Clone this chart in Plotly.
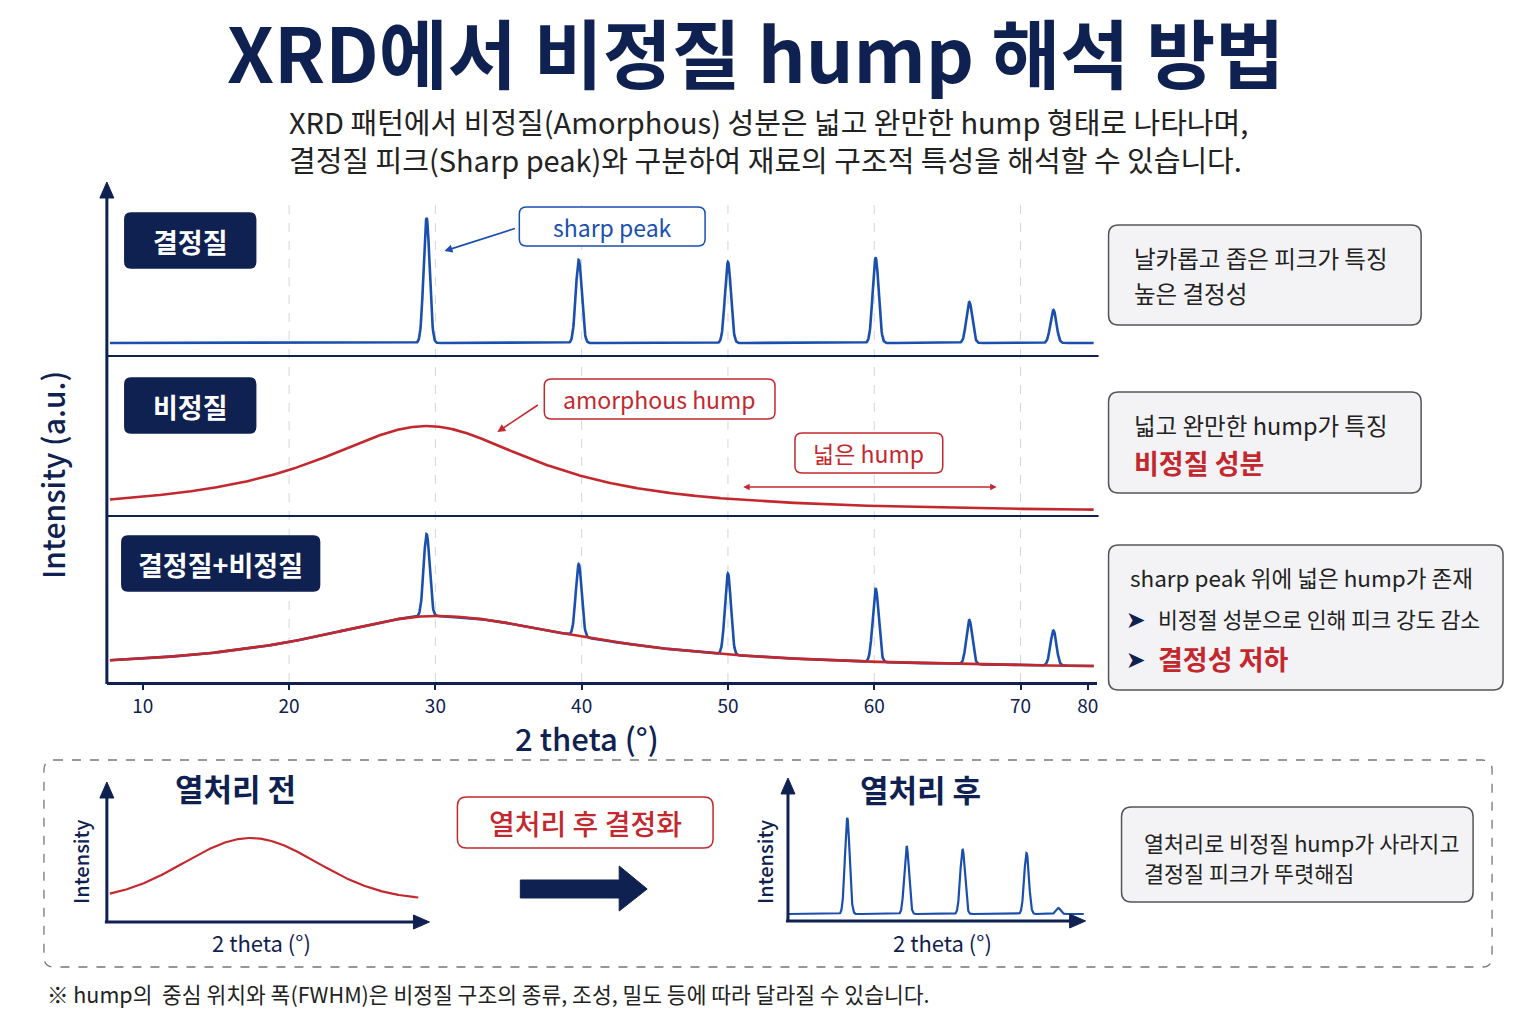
import numpy as np
import plotly.graph_objects as go

W, H = 1536, 1024
FONT = "Noto Sans CJK KR"
NAVY = "#0f2150"
BLUE = "#1a4fae"
RED = "#c3282e"
GREY_TXT = "#222222"
BOX_FILL = "#f3f3f5"
BOX_LINE = "#555555"

#%% data
# crystalline peaks (2theta, height above background)
PEAK_POS = [29.4, 39.8, 50.0, 60.1, 66.5, 72.25]
CRYST_INT = [125, 83, 81, 85, 41, 33]
MIX_INT = [82, 72, 81, 73, 44, 35]
PEAK_FWHM = 0.48
CRYST_BG = 13

# amorphous hump, amorphous-only panel
AMO_CENTER = 29.4
AMO_HEIGHT = 87
AMO_HWHM_L = 9.3
AMO_HWHM_R = 9.1
AMO_BG = 3

# amorphous hump, mixed panel
MIX_CENTER = 30.0
MIX_HEIGHT = 54
MIX_HWHM_L = 10.4
MIX_HWHM_R = 12.7
MIX_BG = 12

# small sketches: before / after annealing
PRE_CENTER = 41.4
PRE_HEIGHT = 62
PRE_HWHM = 17
PRE_BG = 22
POST_POS = [24.0, 38.0, 51.2, 66.3, 73.8]
POST_INT = [96, 68, 65, 61, 6]
POST_FWHM = 1.3
POST_BG = 7

XTICK_VALS = [10, 20, 30, 40, 50, 60, 70, 74.6]
XTICK_TEXT = ["10", "20", "30", "40", "50", "60", "70", "80"]
GRID_VALS = [20, 30, 40, 50, 60, 70]


#%% profiles
def peaks(x, pos, inten, fwhm):
    y = np.zeros_like(x)
    for p, h in zip(pos, inten):
        y += h * np.exp(-4 * np.log(2) * (x - p) ** 2 / fwhm ** 2)
    return y


def lor_hump(x, c, h, wl, wr):
    w = np.where(x < c, wl, wr)
    return h / (1 + ((x - c) / w) ** 2)


def gauss_hump(x, c, h, hwhm):
    return h * np.exp(-np.log(2) * ((x - c) / hwhm) ** 2)


tt = np.linspace(7.75, 75.0, 2400)
cryst = CRYST_BG + peaks(tt, PEAK_POS, CRYST_INT, PEAK_FWHM)
amo = AMO_BG + lor_hump(tt, AMO_CENTER, AMO_HEIGHT, AMO_HWHM_L, AMO_HWHM_R)
mix_hump = MIX_BG + lor_hump(tt, MIX_CENTER, MIX_HEIGHT, MIX_HWHM_L, MIX_HWHM_R)
mix = mix_hump + peaks(tt, PEAK_POS, MIX_INT, PEAK_FWHM)

tt_pre = np.linspace(10.65, 78.0, 400)
pre = PRE_BG + gauss_hump(tt_pre, PRE_CENTER, PRE_HEIGHT, PRE_HWHM)
tt_post = np.linspace(10.2, 79.8, 1500)
post = POST_BG + peaks(tt_post, POST_POS, POST_INT, POST_FWHM)


#%% helpers (pixel -> paper)
def px(x):
    return x / W


def py(y):
    return 1 - y / H


fig = go.Figure()


def P(a, b):
    return f"{px(a):.5f},{py(b):.5f}"


def rbox(x0, y0, x1, y1, r=8, fill="white", line=BOX_LINE, lw=1.5, dash="solid"):
    path = (f"M {P(x0 + r, y0)} L {P(x1 - r, y0)} Q {P(x1, y0)} {P(x1, y0 + r)} "
            f"L {P(x1, y1 - r)} Q {P(x1, y1)} {P(x1 - r, y1)} "
            f"L {P(x0 + r, y1)} Q {P(x0, y1)} {P(x0, y1 - r)} "
            f"L {P(x0, y0 + r)} Q {P(x0, y0)} {P(x0 + r, y0)} Z")
    fig.add_shape(type="path", path=path, xref="paper", yref="paper",
                  fillcolor=fill, line=dict(color=line, width=lw, dash=dash))


def poly(pts, color):
    path = "M " + " L ".join(P(a, b) for a, b in pts) + " Z"
    fig.add_shape(type="path", path=path, xref="paper", yref="paper",
                  fillcolor=color, line=dict(color=color, width=1))


def seg(x0, y0, x1, y1, color=NAVY, w=3):
    fig.add_shape(type="line", xref="paper", yref="paper",
                  x0=px(x0), y0=py(y0), x1=px(x1), y1=py(y1),
                  line=dict(color=color, width=w))


def txt(x, y, s, size, color=GREY_TXT, weight=400, anchor="left", angle=0):
    fig.add_annotation(x=px(x), y=py(y), xref="paper", yref="paper", text=s,
                       showarrow=False, xanchor=anchor, yanchor="middle",
                       textangle=angle,
                       font=dict(family=FONT, size=size, color=color, weight=weight))


def arrow(xt, yt, xh, yh, color, w=1.6, both=False):
    fig.add_annotation(x=px(xh), y=py(yh), xref="paper", yref="paper",
                       ax=xt - xh, ay=yt - yh, text="", showarrow=True,
                       arrowhead=2, startarrowhead=2, arrowsize=1, arrowwidth=w,
                       arrowcolor=color, arrowside="end+start" if both else "end")


#%% traces
fig.add_trace(go.Scatter(x=tt, y=cryst, xaxis="x", yaxis="y3", mode="lines",
                         line=dict(color=BLUE, width=2.6)))
fig.add_trace(go.Scatter(x=tt, y=amo, xaxis="x", yaxis="y2", mode="lines",
                         line=dict(color=RED, width=2.6)))
fig.add_trace(go.Scatter(x=tt, y=mix, xaxis="x", yaxis="y", mode="lines",
                         line=dict(color=BLUE, width=2.6)))
fig.add_trace(go.Scatter(x=tt, y=mix_hump, xaxis="x", yaxis="y", mode="lines",
                         line=dict(color=RED, width=2.6)))
fig.add_trace(go.Scatter(x=tt_pre, y=pre, xaxis="x4", yaxis="y4", mode="lines",
                         line=dict(color=RED, width=2.2)))
fig.add_trace(go.Scatter(x=tt_post, y=post, xaxis="x5", yaxis="y5", mode="lines",
                         line=dict(color=BLUE, width=2.2)))

# dashed grid
for g in GRID_VALS:
    fig.add_shape(type="line", xref="x", yref="paper", x0=g, x1=g,
                  y0=py(682), y1=py(205), layer="below",
                  line=dict(color="#d6d6d6", width=1, dash="dash"))

# main axes
seg(107, 684, 107, 196)
poly([(107, 182), (100, 198), (114, 198)], NAVY)
seg(107, 356, 1100, 356, w=2)
seg(107, 516, 1100, 516, w=2)

# mini axes
seg(107, 922, 107, 795)
poly([(107, 782), (100, 798), (114, 798)], NAVY)
seg(105, 922, 416, 922)
poly([(430, 922), (414, 915), (414, 929)], NAVY)
seg(789, 921, 789, 792)
poly([(789, 778), (782, 794), (796, 794)], NAVY)
seg(787, 921, 1073, 921)
poly([(1087, 921), (1071, 914), (1071, 928)], NAVY)

# big arrow
poly([(521, 880), (620, 880), (620, 866), (648, 889), (620, 911), (620, 898), (521, 898)], NAVY)

#%% text
txt(756, 50, "XRD에서 비정질 hump 해석 방법", 75, NAVY, 700, "center")
txt(287, 121, "XRD 패턴에서 비정질(Amorphous) 성분은 넓고 완만한 hump 형태로 나타나며,", 29)
txt(287, 159, "결정질 피크(Sharp peak)와 구분하여 재료의 구조적 특성을 해석할 수 있습니다.", 29)

txt(52, 475, "Intensity (a.u.)", 30, NAVY, 500, "center", -90)
txt(588, 737, "2 theta (°)", 31, NAVY, 500, "center")

# panel labels
rbox(125, 213, 256, 268, r=6, fill=NAVY, line=NAVY)
txt(190.5, 241, "결정질", 27, "white", 700, "center")
rbox(125, 378, 256, 433, r=6, fill=NAVY, line=NAVY)
txt(190.5, 406, "비정질", 27, "white", 700, "center")
rbox(122, 536, 320, 591, r=6, fill=NAVY, line=NAVY)
txt(221, 564, "결정질+비정질", 27, "white", 700, "center")

# callouts
rbox(520, 207, 706, 246, r=7, line=BLUE)
txt(613, 227, "sharp peak", 23, BLUE, 400, "center")
arrow(517, 228, 445, 251, BLUE)
rbox(545, 379, 776, 419, r=7, line=RED)
txt(660, 399, "amorphous hump", 23, RED, 400, "center")
arrow(540, 404, 498, 432, RED)
rbox(796, 433, 944, 473, r=7, line=RED)
txt(870, 453, "넓은 hump", 23, RED, 400, "center")
arrow(743, 487, 998, 487, RED, w=1.3, both=True)

# side boxes
rbox(1110, 225, 1423, 325, r=10, fill=BOX_FILL)
txt(1133, 258, "날카롭고 좁은 피크가 특징", 23.5)
txt(1133, 293, "높은 결정성", 23.5)
rbox(1110, 392, 1423, 493, r=10, fill=BOX_FILL)
txt(1133, 425, "넓고 완만한 hump가 특징", 23.5)
txt(1133, 462, "비정질 성분", 27, RED, 700)
rbox(1110, 545, 1505, 690, r=10, fill=BOX_FILL)
txt(1129, 577, "sharp peak 위에 넓은 hump가 존재", 22.5)
txt(1137, 618, "➤", 21, NAVY, 700, "center")
txt(1158, 618, "비정절 성분으로 인해 피크 강도 감소", 21.6)
txt(1137, 658, "➤", 21, NAVY, 700, "center")
txt(1158, 658, "결정성 저하", 27, RED, 700)

# bottom section
rbox(44, 760, 1494, 967, r=10, fill="rgba(0,0,0,0)", line="#777777", lw=1.3, dash="dash")
txt(236, 787, "열처리 전", 31, NAVY, 700, "center")
txt(922, 788, "열처리 후", 31, NAVY, 700, "center")
rbox(458, 797, 714, 848, r=9, line=RED)
txt(586, 823, "열처리 후 결정화", 28, RED, 500, "center")
txt(80, 862, "Intensity", 20, NAVY, 500, "center", -90)
txt(765, 862, "Intensity", 20, NAVY, 500, "center", -90)
txt(262, 942, "2 theta (°)", 22, NAVY, 400, "center")
txt(944, 942, "2 theta (°)", 22, NAVY, 400, "center")
rbox(1123, 807, 1475, 902, r=10, fill=BOX_FILL)
txt(1143, 842, "열처리로 비정질 hump가 사라지고", 21.8)
txt(1143, 872, "결정질 피크가 뚜렷해짐", 21.8)

txt(45, 993, "※ hump의  중심 위치와 폭(FWHM)은 비정질 구조의 종류, 조성, 밀도 등에 따라 달라질 수 있습니다.", 21.5)

#%% layout
hidden = dict(visible=False, fixedrange=True)
fig.update_layout(
    width=W, height=H, margin=dict(l=0, r=0, t=0, b=0),
    paper_bgcolor="white", plot_bgcolor="white", showlegend=False,
    hovermode=False, font=dict(family=FONT, color=NAVY),
    xaxis=dict(domain=[px(107), px(1098)], range=[7.54, 75.2], anchor="y",
               tickvals=XTICK_VALS, ticktext=XTICK_TEXT, ticks="outside",
               ticklen=5, tickwidth=1.5, tickcolor=NAVY, ticklabelstandoff=0,
               tickfont=dict(family=FONT, size=19, color=NAVY),
               showline=True, linecolor=NAVY, linewidth=3,
               showgrid=False, zeroline=False, fixedrange=True),
    yaxis=dict(domain=[py(682), py(516)], range=[0, 166], anchor="x", **hidden),
    yaxis2=dict(domain=[py(516), py(356)], range=[0, 160], anchor="x", **hidden),
    yaxis3=dict(domain=[py(356), py(185)], range=[0, 171], anchor="x", **hidden),
    xaxis4=dict(domain=[px(107), px(428)], range=[10, 80], anchor="y4", **hidden),
    yaxis4=dict(domain=[py(922), py(783)], range=[0, 139], anchor="x4", **hidden),
    xaxis5=dict(domain=[px(789), px(1086)], range=[10, 80], anchor="y5", **hidden),
    yaxis5=dict(domain=[py(921), py(778)], range=[0, 143], anchor="x5", **hidden),
)

fig.write_html("out.html", config={"displayModeBar": False},
               post_script="document.body.style.margin='0';document.body.style.overflow='hidden';")
